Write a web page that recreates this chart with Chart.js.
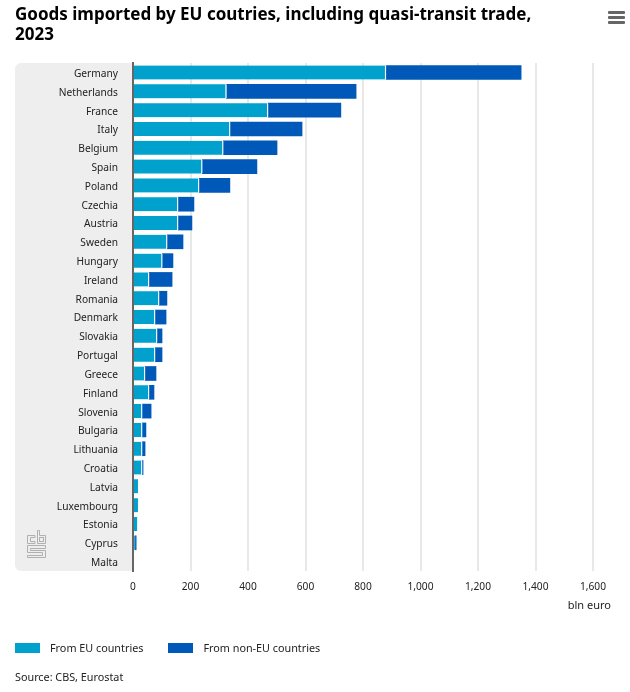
<!DOCTYPE html>
<html>
<head>
<meta charset="utf-8">
<script src="https://cdn.jsdelivr.net/npm/chart.js@4"></script>
<style>
  html, body { margin: 0; padding: 0; background: #fff; }
  #wrap { position: relative; width: 630px; height: 692px; font-family: 'Noto Sans', sans-serif; font-size: 10.8px; color: #222; }
  #legend { position: absolute; left: 15px; top: 640px; display: flex; line-height: 16px; }
  #legend span.item { display: flex; align-items: center; margin-right: 25px; }
  #legend i { display: block; width: 25px; height: 10px; margin-right: 10px; }
  #source { position: absolute; left: 15px; top: 669px; line-height: 16px; }
</style>
</head>
<body>
<div id="wrap">
  <canvas id="importChart" width="630" height="692"></canvas>
  <div id="legend"></div>
  <div id="source">Source: CBS, Eurostat</div>
</div>
<script>
const countries = ["Germany", "Netherlands", "France", "Italy", "Belgium", "Spain", "Poland", "Czechia", "Austria",
  "Sweden", "Hungary", "Ireland", "Romania", "Denmark", "Slovakia", "Portugal", "Greece", "Finland", "Slovenia",
  "Bulgaria", "Lithuania", "Croatia", "Latvia", "Luxembourg", "Estonia", "Cyprus", "Malta"];
const fromEU = [880, 325, 470, 338, 314, 241, 230, 157, 157, 119, 102, 56, 91, 77, 84, 77, 42, 56, 32, 32, 32, 32, 21, 21, 18, 7, null];
const fromNonEU = [470, 451, 253, 250, 187, 190, 107, 55, 48, 55, 37, 80, 27, 38, 17, 24, 38, 17, 31, 13, 10, 3, null, null, null, 4, null];
const xTicks = [0, 200, 400, 600, 800, 1000, 1200, 1400, 1600];

const FONT = "'Noto Sans', sans-serif";
const TEXT_COLOR = "#222222";

function outline(ctx, pts) {
  ctx.beginPath();
  pts.forEach((p, i) => i ? ctx.lineTo(p[0], p[1]) : ctx.moveTo(p[0], p[1]));
  ctx.closePath();
  ctx.stroke();
}

// grey panel behind the labels, plus logo, menu icon and unit label
const decorations = {
  id: "decorations",
  beforeDraw(chart) {
    const { ctx, chartArea } = chart;
    ctx.save();
    ctx.fillStyle = "#eeeeee";
    ctx.beginPath();
    ctx.roundRect(15, chartArea.top, chartArea.left - 15, chartArea.bottom - chartArea.top, [6, 0, 0, 6]);
    ctx.fill();
    ctx.restore();
  },
  afterDraw(chart) {
    const { ctx } = chart;
    ctx.save();
    ctx.fillStyle = "#666666";
    [11, 16, 21].forEach(y => {
      ctx.beginPath();
      ctx.roundRect(608, y, 17, 3, 1);
      ctx.fill();
    });

    ctx.fillStyle = TEXT_COLOR;
    ctx.font = "11px " + FONT;
    ctx.textAlign = "right";
    ctx.textBaseline = "middle";
    ctx.fillText("bln euro", 611, 606);

    ctx.strokeStyle = "#b0b0b0";
    ctx.lineWidth = 1;
    outline(ctx, [[27.5, 535.5], [35, 535.5], [35, 537.5], [30.5, 537.5], [30.5, 541.5], [35, 541.5], [35, 543.5], [27.5, 543.5]]);
    outline(ctx, [[37.5, 530.5], [39.5, 530.5], [39.5, 535.5], [45.5, 535.5], [45.5, 543.5], [37.5, 543.5]]);
    ctx.strokeRect(39.5, 537.5, 4, 4);
    outline(ctx, [[27.5, 545.5], [45.5, 545.5], [45.5, 548.5], [30.5, 548.5], [30.5, 550.5], [45.5, 550.5], [45.5, 557.5], [27.5, 557.5], [27.5, 555.5], [42.5, 555.5], [42.5, 552.5], [27.5, 552.5]]);
    ctx.restore();
  }
};

const chart = new Chart(document.getElementById("importChart"), {
  type: "bar",
  data: {
    labels: countries,
    datasets: [
      { label: "From EU countries", data: fromEU, backgroundColor: "#00a1cd", borderColor: "#ffffff", borderWidth: { right: 1.4 }, borderSkipped: false, barThickness: 14 },
      { label: "From non-EU countries", data: fromNonEU, backgroundColor: "#0058b8", borderWidth: 0, barThickness: 14 }
    ]
  },
  options: {
    indexAxis: "y",
    responsive: false,
    animation: false,
    layout: { padding: { left: 15, right: 37, top: 5, bottom: 0 } },
    scales: {
      x: {
        stacked: true,
        min: 0,
        max: 1600,
        afterBuildTicks(axis) { axis.ticks = xTicks.map(v => ({ value: v })); },
        afterFit(axis) { axis.height = 121; },
        grid: { color: "#e8e8e8", lineWidth: 2, drawTicks: false },
        border: { display: false },
        ticks: {
          color: TEXT_COLOR,
          font: { family: FONT, size: 10.2 },
          padding: 10,
          maxRotation: 0,
          callback: v => v.toLocaleString("en-US")
        }
      },
      y: {
        stacked: true,
        z: 1,
        afterFit(axis) { axis.width = 118; },
        grid: { display: false },
        border: { color: "#666666", width: 2 },
        ticks: { color: TEXT_COLOR, font: { family: FONT, size: 10.2 }, padding: 7, autoSkip: false, labelOffset: 1.5 }
      }
    },
    plugins: {
      title: {
        display: true,
        text: ["Goods imported by EU coutries, including quasi-transit trade,", "2023"],
        align: "start",
        color: "#000000",
        font: { family: FONT, size: 17, weight: "bold", lineHeight: 1.18 },
        padding: { top: 0, bottom: 18 }
      },
      legend: { display: false },
      tooltip: { enabled: false }
    }
  },
  plugins: [decorations]
});

// legend is built from the datasets so it can sit where the original has it
const legendEl = document.getElementById("legend");
chart.data.datasets.forEach(ds => {
  const item = document.createElement("span");
  item.className = "item";
  item.innerHTML = `<i style="background:${ds.backgroundColor}"></i>${ds.label}`;
  legendEl.appendChild(item);
});
</script>
</body>
</html>
